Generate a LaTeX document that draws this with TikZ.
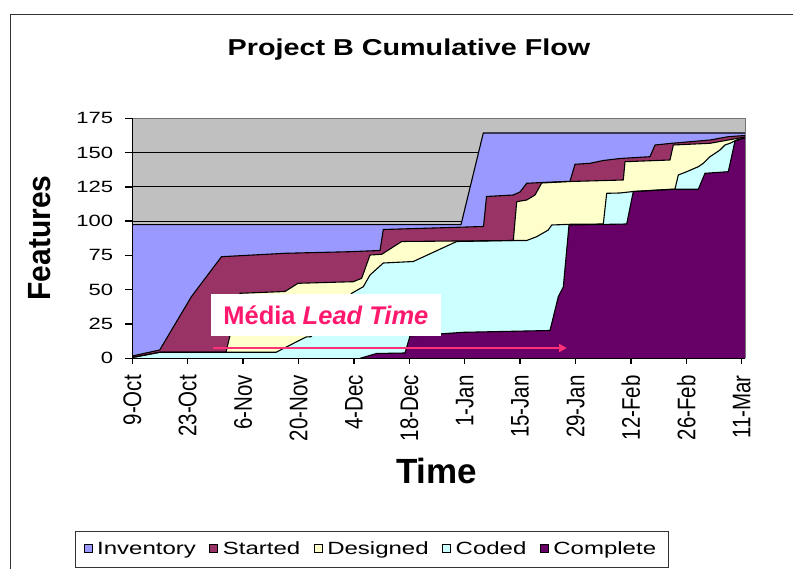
\documentclass[tikz,border=0pt]{standalone}
\usepackage{fontspec}
\setmainfont{Liberation Sans}
\usetikzlibrary{arrows.meta}
\definecolor{plotgray}{RGB}{192,192,192}
\definecolor{invc}{RGB}{153,153,255}
\definecolor{startc}{RGB}{153,51,102}
\definecolor{desc}{RGB}{255,255,204}
\definecolor{codc}{RGB}{204,255,255}
\definecolor{compc}{RGB}{102,0,102}
\definecolor{leadpink}{RGB}{255,25,110}
\definecolor{arrowpink}{RGB}{255,50,120}
\tikzset{
  areaedge/.style={draw=black, line width=1.1pt, line join=round},
  axisline/.style={draw=black, line width=1.5pt},
  gridline/.style={draw=black, line width=1.2pt},
  ynum/.style={anchor=east, inner sep=0pt, font=\fontsize{16.3}{18}\selectfont},
  xdate/.style={rotate=90, anchor=east, inner sep=0pt, font=\fontsize{20.5}{22}\selectfont},
  legsq/.style={draw=black, line width=0.7pt, minimum width=8pt, minimum height=8pt, inner sep=0pt},
  legtext/.style={anchor=base west, inner sep=0pt, font=\fontsize{17.7}{20}\selectfont}
}
\newcommand\hstretch[2]{\scalebox{#1}[1]{#2}}
\newcommand\vstretch[2]{\scalebox{1}[#1]{#2}}
\begin{document}
\begin{tikzpicture}[x=1pt,y=-1pt]
\useasboundingbox (0,0) rectangle (793,569);
% outer frame
\draw[line width=1.3pt, black!80] (10.7,569) -- (10.7,14.3) -- (793,14.3);
% title
\node[anchor=base, inner sep=0pt, font=\fontsize{23}{26}\selectfont\bfseries] (title) at (409,56) {\hstretch{1.25}{Project B Cumulative Flow}};
% plot background
\fill[plotgray] (132.3,118.3) rectangle (745,358.3);
\foreach \v in {25,50,...,150} {
  \pgfmathsetmacro\yy{358.3-1.3714*\v}
  \draw[gridline] (132.3,\yy) -- (745,\yy);
}
% Inventory
\fill[invc] (132.3,358.3) -- (132.3,224.7) -- (461,224.7) -- (483.3,133) -- (745,133) -- (745,358.3) -- cycle;
% Started
\fill[startc] (132.3,358.3) -- (132.3,356) -- (159.7,350) -- (191.5,296.5) -- (221.5,256.7) -- (285,253.3) -- (350,251.7) -- (380,250.5) -- (383.3,229.5) -- (483.5,226.5) -- (486.5,196.5) -- (513.3,195) -- (520,192) -- (526.7,183.3) -- (541.7,182.5) -- (570,181.3) -- (575,164.3) -- (590,163.3) -- (603.3,160.5) -- (620,158.5) -- (650,156.7) -- (655,145) -- (671.7,143.3) -- (710,140) -- (728.3,136.7) -- (745,135.5) -- (745,358.3) -- cycle;
% Designed
\fill[desc] (132.3,358.3) -- (132.3,357.5) -- (159.7,352.3) -- (226,352.3) -- (240,293.3) -- (285,291.5) -- (298,283.3) -- (353.3,281.7) -- (361.7,278.3) -- (370,255) -- (381.7,254.3) -- (401.7,241.5) -- (513.3,240.5) -- (516.7,201.7) -- (526.7,200) -- (535,195) -- (541.7,183) -- (570,181.5) -- (623.3,180) -- (625,161.7) -- (670,160) -- (673.3,145) -- (710,143.3) -- (728.3,140) -- (745,137) -- (745,358.3) -- cycle;
% Coded
\fill[codc] (132.3,358.3) -- (132.3,357.5) -- (159.7,352.3) -- (276,352.3) -- (306,337) -- (311,336.7) -- (330,318) -- (351.7,293.3) -- (363.3,286.7) -- (370,275) -- (383.3,263) -- (413.3,261.5) -- (456.7,241.5) -- (513.3,240.5) -- (526.7,240.5) -- (536.7,236.7) -- (548.3,230) -- (551.7,225) -- (570,224.3) -- (603.3,224) -- (606.7,193.3) -- (620,193) -- (633.3,191.5) -- (675,189) -- (678.3,175) -- (686.7,171.7) -- (698.3,166.7) -- (703.3,163.3) -- (710,156.7) -- (720,150) -- (725,145) -- (730,143.3) -- (736.7,140) -- (745,137.5) -- (745,358.3) -- cycle;
% Complete
\fill[compc] (132.3,358.3) -- (360,358.3) -- (376.7,353.5) -- (405,353) -- (410,336) -- (463.3,332.3) -- (550,330.5) -- (558.3,296.7) -- (563.3,287) -- (569,225) -- (626.7,224) -- (633.3,191.5) -- (675,189.3) -- (698.3,189.3) -- (705,173.3) -- (728.3,171.7) -- (735,141) -- (741.7,138.8) -- (745,137.7) -- (745,358.3) -- cycle;
% area edges
\draw[areaedge] (132.3,224.7) -- (461,224.7) -- (483.3,133) -- (745,133);
\draw[areaedge] (132.3,356) -- (159.7,350) -- (191.5,296.5) -- (221.5,256.7) -- (285,253.3) -- (350,251.7) -- (380,250.5) -- (383.3,229.5) -- (483.5,226.5) -- (486.5,196.5) -- (513.3,195) -- (520,192) -- (526.7,183.3) -- (541.7,182.5) -- (570,181.3) -- (575,164.3) -- (590,163.3) -- (603.3,160.5) -- (620,158.5) -- (650,156.7) -- (655,145) -- (671.7,143.3) -- (710,140) -- (728.3,136.7) -- (745,135.5);
\draw[areaedge] (132.3,357.5) -- (159.7,352.3) -- (226,352.3) -- (240,293.3) -- (285,291.5) -- (298,283.3) -- (353.3,281.7) -- (361.7,278.3) -- (370,255) -- (381.7,254.3) -- (401.7,241.5) -- (513.3,240.5) -- (516.7,201.7) -- (526.7,200) -- (535,195) -- (541.7,183) -- (570,181.5) -- (623.3,180) -- (625,161.7) -- (670,160) -- (673.3,145) -- (710,143.3) -- (728.3,140) -- (745,137);
\draw[areaedge] (132.3,357.5) -- (159.7,352.3) -- (276,352.3) -- (306,337) -- (311,336.7) -- (330,318) -- (351.7,293.3) -- (363.3,286.7) -- (370,275) -- (383.3,263) -- (413.3,261.5) -- (456.7,241.5) -- (513.3,240.5) -- (526.7,240.5) -- (536.7,236.7) -- (548.3,230) -- (551.7,225) -- (570,224.3) -- (603.3,224) -- (606.7,193.3) -- (620,193) -- (633.3,191.5) -- (675,189) -- (678.3,175) -- (686.7,171.7) -- (698.3,166.7) -- (703.3,163.3) -- (710,156.7) -- (720,150) -- (725,145) -- (730,143.3) -- (736.7,140) -- (745,137.5);
\draw[areaedge] (360,358.3) -- (376.7,353.5) -- (405,353) -- (410,336) -- (463.3,332.3) -- (550,330.5) -- (558.3,296.7) -- (563.3,287) -- (569,225) -- (626.7,224) -- (633.3,191.5) -- (675,189.3) -- (698.3,189.3) -- (705,173.3) -- (728.3,171.7) -- (735,141) -- (741.7,138.8) -- (745,137.7);
% plot border
\draw[line width=1pt, black!55] (132.3,118.3) -- (745,118.3) -- (745,358.3);
% axes
\draw[axisline] (132.3,118.3) -- (132.3,358.3) -- (745,358.3);
\foreach \v in {0,25,...,175} {
  \pgfmathsetmacro\yy{358.3-1.3714*\v}
  \draw[axisline] (125,\yy) -- (132.3,\yy);
  \node[ynum] (yl\v) at (113.3,\yy) {\hstretch{1.35}{\v}};
}
\foreach \lab [count=\i from 0] in {9-Oct,23-Oct,6-Nov,20-Nov,4-Dec,18-Dec,1-Jan,15-Jan,29-Jan,12-Feb,26-Feb,11-Mar} {
  \pgfmathsetmacro\xx{132.3+55.4*\i}
  \draw[axisline] (\xx,358.3) -- (\xx,364);
  \node[xdate] (xl\i) at (\xx,375) {\vstretch{1.24}{\lab}};
}
% axis titles
\node[rotate=90, inner sep=0pt, font=\fontsize{30}{32}\selectfont\bfseries] (ytitle) at (40,238) {\vstretch{1.07}{Features}};
\node[inner sep=0pt, font=\fontsize{35}{38}\selectfont\bfseries] (xtitle) at (436.6,470.8) {Time};
% lead time annotation
\node[fill=white, minimum width=230.3pt, minimum height=41.5pt, inner sep=0pt, text=leadpink, font=\fontsize{25.5}{28}\selectfont\bfseries] (lbox) at (325.9,314.8) {Média \textit{Lead Time}};
\coordinate (arrS) at (213.3,348);
\coordinate (arrE) at (567,348);
\draw[arrowpink, line width=2.2pt, -{Triangle[length=8pt,width=8pt]}] (arrS) -- (arrE);
% legend
\node[draw=black!80, line width=1pt, minimum width=593pt, minimum height=36pt, inner sep=0pt] (legbox) at (371.5,549) {};
\node[legsq, fill=invc] (lsq1) at (88,548.2) {};
\node[legtext] (lt1) at (97,554.3) {\hstretch{1.356}{Inventory}};
\node[legsq, fill=startc] (lsq2) at (213.7,548.2) {};
\node[legtext] (lt2) at (222.7,554.3) {\hstretch{1.356}{Started}};
\node[legsq, fill=desc] (lsq3) at (318.1,548.2) {};
\node[legtext] (lt3) at (327.1,554.3) {\hstretch{1.356}{Designed}};
\node[legsq, fill=codc] (lsq4) at (446.5,548.2) {};
\node[legtext] (lt4) at (455.5,554.3) {\hstretch{1.356}{Coded}};
\node[legsq, fill=compc] (lsq5) at (544.2,548.2) {};
\node[legtext] (lt5) at (553.2,554.3) {\hstretch{1.356}{Complete}};
\end{tikzpicture}
\end{document}
